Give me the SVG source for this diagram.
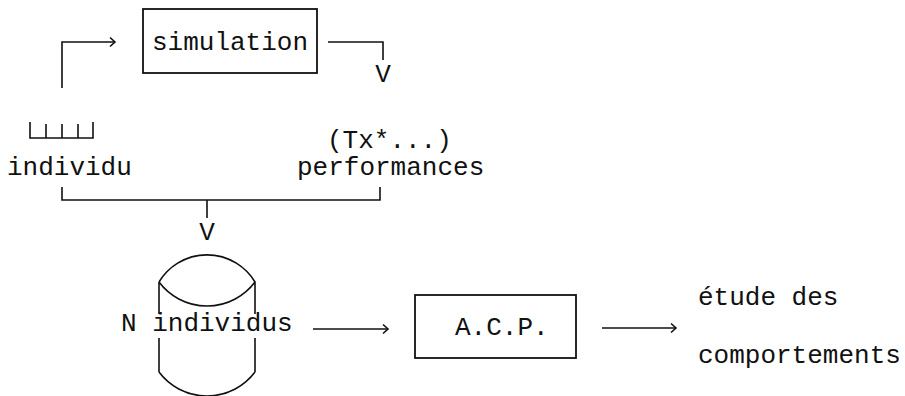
<svg xmlns="http://www.w3.org/2000/svg" width="905" height="396" viewBox="0 0 905 396">
<defs>
<style>
text{font-family:"Liberation Mono","Courier New",monospace;font-size:26px;fill:#111}
.ln{fill:none;stroke:#111;stroke-width:1.6}
.box{fill:none;stroke:#111;stroke-width:1.8}
</style>
<marker id="chev" viewBox="-6 -6 8 12" markerWidth="8" markerHeight="12" refX="0" refY="0" orient="auto" markerUnits="userSpaceOnUse">
<path d="M-5,-4.5 L0,0 L-5,4.5" fill="none" stroke="#111" stroke-width="1.6"/>
</marker>
</defs>
<rect width="905" height="396" fill="#fff"/>
<g id="connectors">
<path class="ln" d="M62,88 V42 H115" marker-end="url(#chev)"/>
<path class="ln" d="M328,42 H383 V60"/>
<text x="383" y="82" text-anchor="middle">V</text>
<path class="ln" d="M62,187 V200 H380 V187 M207,200 V218"/>
<text x="207" y="240" text-anchor="middle">V</text>
<path class="ln" d="M313,329 H388" marker-end="url(#chev)"/>
<path class="ln" d="M602,328 H676" marker-end="url(#chev)"/>
</g>
<g id="simulation">
<rect class="box" x="143" y="9" width="174" height="64"/>
<text x="230" y="50" text-anchor="middle">simulation</text>
</g>
<g id="individu">
<path class="ln" d="M30,122 V138 H93 V122 M46,124 V138 M62,124 V138 M78,124 V138"/>
<text x="7" y="175">individu</text>
</g>
<g id="performances">
<text x="327" y="148">(Tx*...)</text>
<text x="297" y="175">performances</text>
</g>
<g id="n-individus">
<path class="ln" d="M159,282 A56 56 0 0 1 255,282 A60 60 0 0 1 159,282 M159,282 V314 M255,282 V314 M159,338 V372 M255,338 V372 M159,372 A60 60 0 0 0 255,372"/>
<text x="121" y="331">N individus</text>
</g>
<g id="acp">
<rect class="box" x="415" y="295" width="161" height="63"/>
<text x="455" y="335">A.C.P.</text>
</g>
<g id="etude">
<text x="698" y="305">étude des</text>
<text x="698" y="363">comportements</text>
</g>
</svg>
